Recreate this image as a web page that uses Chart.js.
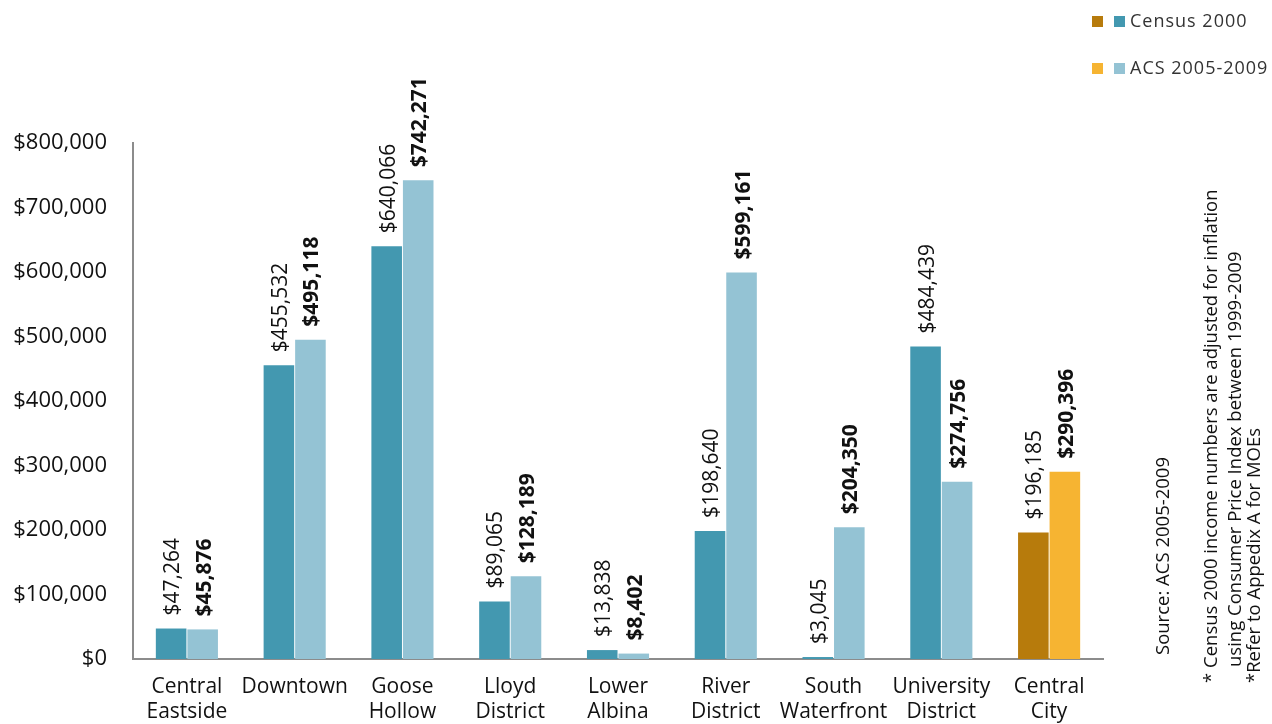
<!DOCTYPE html>
<html>
<head>
<meta charset="utf-8">
<script src="https://cdn.jsdelivr.net/npm/chart.js@4/dist/chart.umd.min.js"></script>
<style>
  html, body { margin: 0; padding: 0; background: #fff; overflow: hidden; }
  canvas { display: block; }
</style>
</head>
<body>
<canvas id="chart" width="1272" height="724"></canvas>
<script>
// --- Data ---
const districts = [
    ['Central', 'Eastside'], 'Downtown', ['Goose', 'Hollow'], ['Lloyd', 'District'],
    ['Lower', 'Albina'], ['River', 'District'], ['South', 'Waterfront'],
    ['University', 'District'], ['Central', 'City']
];
const census2000 = [47264, 455532, 640066, 89065, 13838, 198640, 3045, 484439, 196185];
const acs2005 = [45876, 495118, 742271, 128189, 8402, 599161, 204350, 274756, 290396];
const yTicks = [0, 100000, 200000, 300000, 400000, 500000, 600000, 700000, 800000];
const notes = [
    'Source: ACS 2005-2009',
    '* Census 2000 income numbers are adjusted for inflation',
    'using Consumer Price Index between 1999-2009',
    '*Refer to Appedix A for MOEs'
];

// --- Colores ---
const TEAL_DARK = '#4398b0';
const TEAL_LIGHT = '#94c3d4';
const GOLD_DARK = '#b77b0c';
const GOLD_LIGHT = '#f6b432';
const FONT = '"Open Sans", "Noto Sans", sans-serif';

// Central City (last bar) is highlighted in gold
const last = districts.length - 1;
const censusColors = districts.map((d, i) => i === last ? GOLD_DARK : TEAL_DARK);
const acsColors = districts.map((d, i) => i === last ? GOLD_LIGHT : TEAL_LIGHT);

const money = v => '$' + v.toLocaleString('en-US');

// Rotated value labels above each bar
const valueLabels = {
    id: 'valueLabels',
    afterDatasetsDraw(chart) {
        const ctx = chart.ctx;
        chart.data.datasets.forEach((ds, di) => {
            const meta = chart.getDatasetMeta(di);
            meta.data.forEach((bar, i) => {
                ctx.save();
                ctx.translate(bar.x + 2, bar.y - 13);
                ctx.rotate(-Math.PI / 2);
                ctx.font = (di === 1 ? 'bold ' : '') + '21px ' + FONT;
                ctx.fillStyle = '#111';
                ctx.textAlign = 'left';
                ctx.textBaseline = 'middle';
                ctx.fillText(money(ds.data[i]), 0, 0);
                ctx.restore();
            });
        });
    }
};

// Legend with both colour pairs + side notes
const sideDecor = {
    id: 'sideDecor',
    afterDraw(chart) {
        const ctx = chart.ctx;
        const rows = [
            { y: 22, colors: [GOLD_DARK, TEAL_DARK], text: 'Census 2000' },
            { y: 69, colors: [GOLD_LIGHT, TEAL_LIGHT], text: 'ACS 2005-2009' }
        ];
        ctx.save();
        ctx.font = '18px ' + FONT;
        ctx.letterSpacing = '1px';
        ctx.textBaseline = 'middle';
        ctx.textAlign = 'left';
        rows.forEach(r => {
            ctx.fillStyle = r.colors[0];
            ctx.fillRect(1092, r.y - 6, 11, 11);
            ctx.fillStyle = r.colors[1];
            ctx.fillRect(1114, r.y - 6, 11, 11);
            ctx.fillStyle = '#333';
            ctx.fillText(r.text, 1130, r.y);
        });
        ctx.letterSpacing = '0px';

        const noteSpots = [[1164, 655], [1212, 683], [1236, 667], [1255, 683]];
        ctx.font = '18.5px ' + FONT;
        ctx.fillStyle = '#111';
        notes.forEach((t, i) => {
            ctx.save();
            ctx.translate(noteSpots[i][0], noteSpots[i][1]);
            ctx.rotate(-Math.PI / 2);
            ctx.fillText(t, 0, 0);
            ctx.restore();
        });
        ctx.restore();
    }
};

new Chart(document.getElementById('chart'), {
    type: 'bar',
    data: {
        labels: districts,
        datasets: [
            { label: 'Census 2000', data: census2000, backgroundColor: censusColors,
              categoryPercentage: 0.585, barPercentage: 0.97 },
            { label: 'ACS 2005-2009', data: acs2005, backgroundColor: acsColors,
              categoryPercentage: 0.585, barPercentage: 0.97 }
        ]
    },
    options: {
        responsive: false,
        animation: false,
        events: [],
        layout: { padding: { top: 143, right: 169, left: 0, bottom: 0 } },
        plugins: { legend: { display: false }, tooltip: { enabled: false } },
        scales: {
            x: {
                grid: { display: false, drawTicks: false },
                border: { display: true, color: '#8c8c8c', width: 2 },
                ticks: { color: '#111', font: { family: FONT, size: 21, lineHeight: 1.2 }, padding: 15, maxRotation: 0, autoSkip: false },
                afterFit(scale) { scale.height = 65; }
            },
            y: {
                min: 0,
                max: 800000,
                afterBuildTicks(scale) { scale.ticks = yTicks.map(v => ({ value: v })); },
                grid: { display: false, drawTicks: false },
                border: { display: true, color: '#8c8c8c', width: 2 },
                ticks: { color: '#111', font: { family: FONT, size: 22 }, padding: 26, callback: v => money(v) },
                afterFit(scale) { scale.width = 133; }
            }
        }
    },
    plugins: [valueLabels, sideDecor]
});
</script>
</body>
</html>
